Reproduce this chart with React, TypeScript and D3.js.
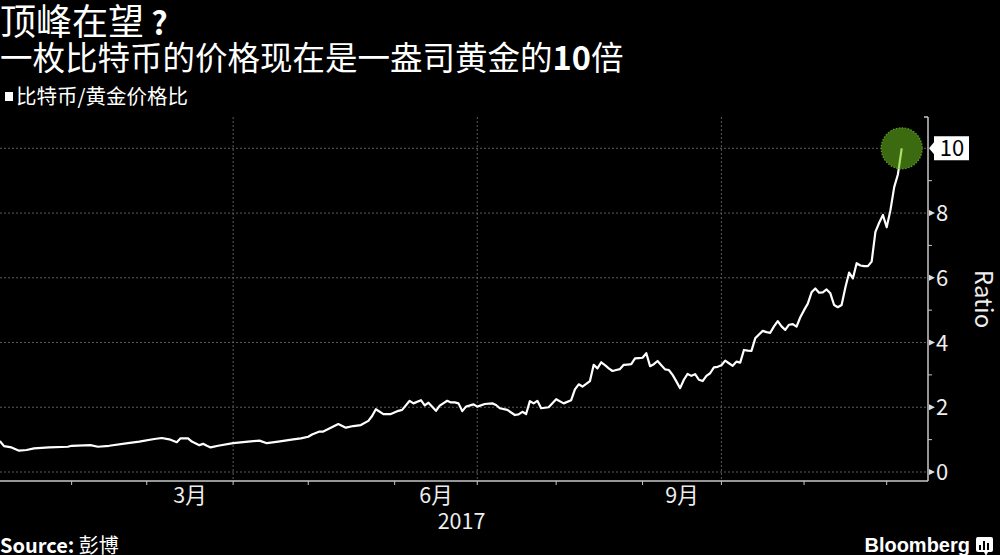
import * as d3 from "d3";

const dates = [
  "2017-01-03", "2017-01-05", "2017-01-06", "2017-01-10", "2017-01-12", "2017-01-16", "2017-01-18", "2017-01-24",
  "2017-01-31", "2017-02-01", "2017-02-08", "2017-02-10", "2017-02-15", "2017-02-22", "2017-02-27", "2017-03-03",
  "2017-03-07", "2017-03-09", "2017-03-13", "2017-03-14", "2017-03-16", "2017-03-17", "2017-03-21", "2017-03-22",
  "2017-03-23", "2017-03-24", "2017-03-28", "2017-04-03", "2017-04-07", "2017-04-12", "2017-04-14", "2017-04-19",
  "2017-04-25", "2017-04-27", "2017-05-01", "2017-05-02", "2017-05-04", "2017-05-05", "2017-05-09", "2017-05-11",
  "2017-05-15", "2017-05-17", "2017-05-19", "2017-05-23", "2017-05-24", "2017-05-25", "2017-05-29", "2017-05-31",
  "2017-06-02", "2017-06-05", "2017-06-07", "2017-06-08", "2017-06-12", "2017-06-13", "2017-06-14", "2017-06-16",
  "2017-06-19", "2017-06-21", "2017-06-22", "2017-06-23", "2017-06-26", "2017-06-27", "2017-06-28", "2017-06-30",
  "2017-07-03", "2017-07-05", "2017-07-07", "2017-07-10", "2017-07-11", "2017-07-13", "2017-07-17", "2017-07-18",
  "2017-07-19", "2017-07-20", "2017-07-21", "2017-07-24", "2017-07-25", "2017-07-26", "2017-07-28", "2017-08-01",
  "2017-08-03", "2017-08-07", "2017-08-08", "2017-08-09", "2017-08-10", "2017-08-11", "2017-08-14", "2017-08-15",
  "2017-08-16", "2017-08-17", "2017-08-18", "2017-08-21", "2017-08-22", "2017-08-23", "2017-08-24", "2017-08-25",
  "2017-08-28", "2017-08-29", "2017-08-30", "2017-08-31", "2017-09-01", "2017-09-04", "2017-09-05", "2017-09-06",
  "2017-09-07", "2017-09-08", "2017-09-11", "2017-09-12", "2017-09-13", "2017-09-14", "2017-09-15", "2017-09-18",
  "2017-09-19", "2017-09-20", "2017-09-21", "2017-09-22", "2017-09-25", "2017-09-26", "2017-09-27", "2017-09-28",
  "2017-09-29", "2017-10-02", "2017-10-03", "2017-10-04", "2017-10-05", "2017-10-06", "2017-10-09", "2017-10-10",
  "2017-10-11", "2017-10-12", "2017-10-13", "2017-10-16", "2017-10-17", "2017-10-18", "2017-10-19", "2017-10-20",
  "2017-10-23", "2017-10-24", "2017-10-25", "2017-10-26", "2017-10-27", "2017-10-30", "2017-10-31", "2017-11-01",
  "2017-11-02", "2017-11-03", "2017-11-06", "2017-11-07", "2017-11-08", "2017-11-09", "2017-11-10", "2017-11-13",
  "2017-11-14", "2017-11-15", "2017-11-16", "2017-11-17", "2017-11-20", "2017-11-21", "2017-11-22", "2017-11-23",
  "2017-11-24", "2017-11-27", "2017-11-28", "2017-11-29", "2017-11-30", "2017-12-01", "2017-12-04", "2017-12-05",
  "2017-12-06", "2017-12-07",
];

// bitcoin price / gold price per ounce
const ratios = [
  0.98, 0.94, 0.8, 0.76, 0.66, 0.68, 0.73, 0.76,
  0.78, 0.81, 0.83, 0.78, 0.81, 0.89, 0.94, 1.02,
  1.05, 1.01, 0.92, 1.04, 1.04, 0.94, 0.83, 0.87,
  0.81, 0.76, 0.81, 0.89, 0.94, 0.97, 0.89, 0.94,
  1.01, 1.04, 1.09, 1.16, 1.25, 1.25, 1.37, 1.48,
  1.37, 1.42, 1.45, 1.58, 1.73, 1.94, 1.79, 1.79,
  1.89, 1.92, 2.2, 2.12, 2.22, 2.06, 2.14, 1.89,
  2.05, 2.2, 2.15, 2.15, 2.12, 1.88, 2.02, 2.09,
  2.02, 2.1, 2.12, 2.07, 1.97, 1.92, 1.76, 1.78,
  1.86, 1.79, 2.19, 2.12, 2.2, 1.97, 2.0, 2.25,
  2.12, 2.22, 2.55, 2.71, 2.64, 2.72, 2.81, 3.31,
  3.2, 3.39, 3.3, 3.2, 3.12, 3.15, 3.18, 3.31,
  3.32, 3.33, 3.51, 3.52, 3.53, 3.67, 3.27, 3.33,
  3.43, 3.3, 3.17, 3.15, 3.0, 2.8, 2.59, 2.85,
  3.03, 2.97, 3.02, 2.85, 2.81, 2.97, 3.05, 3.23,
  3.25, 3.3, 3.44, 3.36, 3.28, 3.41, 3.38, 3.77,
  3.75, 3.74, 4.13, 4.25, 4.36, 4.32, 4.3, 4.5,
  4.66, 4.5, 4.39, 4.55, 4.57, 4.49, 4.78, 5.0,
  5.2, 5.55, 5.67, 5.54, 5.55, 5.64, 5.52, 5.16,
  5.09, 5.16, 5.7, 6.16, 5.98, 6.45, 6.38, 6.36,
  6.36, 6.5, 7.42, 7.7, 7.94, 7.56, 8.09, 8.8,
  9.2, 10.0,
];

const yTicks = [0, 2, 4, 6, 8, 10];
const yMinorTicks = [1, 3, 5, 7, 9];
const monthTicks = [
  "2017-02-01", "2017-03-01", "2017-04-01", "2017-05-01", "2017-06-01", "2017-07-01",
  "2017-08-01", "2017-09-01", "2017-10-01", "2017-11-01", "2017-12-01",
];
const labeledMonths = ["2017-03-01", "2017-06-01", "2017-09-01"];
const monthNames = ["3月", "6月", "9月"];
const quarterLines = ["2017-04-01", "2017-07-01", "2017-10-01"];
const yearLabel = "2017";

const W = 1000;
const H = 555;
const plotTop = 117;
const plotBottom = 481;
const axisX = 928;
const font = "'Noto Sans CJK SC', 'Noto Sans', sans-serif";
const gridColor = "#5a5a5a";
const axisColor = "#c8c8c8";

const parse = d3.timeParse("%Y-%m-%d");
const origin = new Date(2017, 0, 2);
// the time axis counts trading days, weekends take no room
function tradingIndex(d: Date) {
  return d3.timeDay.range(origin, d).filter((x) => x.getDay() % 6 !== 0).length;
}

export default function App() {
  const points = dates.map((d, i) => ({ t: tradingIndex(parse(d)!), v: ratios[i] }));
  const x = d3.scaleLinear().domain([0, 250]).range([-11, axisX]);
  const y = d3.scaleLinear().domain([0, 10]).range([472, 148.3]);
  const line = d3
    .line<{ t: number; v: number }>()
    .x((p) => x(p.t))
    .y((p) => y(p.v));
  const path = line(points) ?? "";
  const last = points[points.length - 1];
  const lx = x(last.t);
  const ly = y(last.v);
  const fmt = d3.format(".0f");

  return (
    <svg
      width={W}
      height={H}
      viewBox={`0 0 ${W} ${H}`}
      style={{ position: "absolute", left: 0, top: 0, background: "#000" }}
      fontFamily={font}
    >
      <defs>
        <clipPath id="plot">
          <rect x={0} y={plotTop - 10} width={axisX} height={plotBottom - plotTop + 10} />
        </clipPath>
        <clipPath id="spot">
          <circle cx={lx} cy={ly} r={20.5} />
        </clipPath>
      </defs>
      <rect x={0} y={0} width={W} height={H} fill="#000" />

      {/* headings */}
      <text x={0} y={35} fill="#fff" fontSize={36}>
        顶峰在望<tspan fontWeight="bold" fontSize={32}> ?</tspan>
      </text>
      <text x={0} y={70} fill="#fff" fontSize={32.5}>
        一枚比特币的价格现在是一盎司黄金的<tspan fontWeight="bold">10</tspan>倍
      </text>
      <rect x={5} y={92} width={8} height={9} fill="#fff" />
      <text x={16} y={104} fill="#fff" fontSize={20.5}>
        比特币/黄金价格比
      </text>

      {/* grid */}
      {yTicks.map((t) => (
        <line key={`g${t}`} x1={0} x2={axisX} y1={y(t)} y2={y(t)} stroke={gridColor} strokeDasharray="2,2" />
      ))}
      {quarterLines.map((d) => {
        const gx = x(tradingIndex(parse(d)!));
        return <line key={d} x1={gx} x2={gx} y1={plotTop} y2={plotBottom} stroke={gridColor} strokeDasharray="2,2" />;
      })}

      {/* series */}
      <g clipPath="url(#plot)">
        <path d={path} fill="none" stroke="#fff" strokeWidth={2.2} strokeLinejoin="round" />
      </g>
      <circle cx={lx} cy={ly} r={20.5} fill="#3b6a10" stroke="#5f9e22" strokeWidth={1.2} strokeDasharray="1.5,1.5" />
      <path d={path} fill="none" stroke="#a9e06a" strokeWidth={2.2} clipPath="url(#spot)" />

      {/* x axis */}
      <line x1={0} x2={axisX} y1={plotBottom} y2={plotBottom} stroke={axisColor} strokeWidth={1.5} />
      {monthTicks.map((d) => {
        const tx = x(tradingIndex(parse(d)!));
        return <line key={d} x1={tx} x2={tx} y1={plotBottom} y2={plotBottom + 4} stroke={axisColor} />;
      })}
      {labeledMonths.map((d, i) => {
        const start = parse(d)!;
        const cx = (x(tradingIndex(start)) + x(tradingIndex(d3.timeMonth.offset(start, 1)))) / 2;
        return (
          <text key={d} x={cx} y={503} fill="#eee" fontSize={21.5} textAnchor="middle">
            {monthNames[i]}
          </text>
        );
      })}
      <text x={(x(0) + axisX) / 2 + 3} y={529} fill="#eee" fontSize={21.5} textAnchor="middle">
        {yearLabel}
      </text>

      {/* y axis */}
      <line x1={axisX} x2={axisX} y1={plotTop} y2={plotBottom} stroke={axisColor} strokeWidth={1.5} />
      <line x1={axisX - 4} x2={axisX} y1={plotTop} y2={plotTop} stroke={axisColor} strokeWidth={1.5} />
      {yMinorTicks.map((t) => (
        <line key={`m${t}`} x1={axisX} x2={axisX + 4} y1={y(t)} y2={y(t)} stroke={axisColor} />
      ))}
      {yTicks.map((t) => (
        <g key={`t${t}`}>
          {t !== last.v && (
            <>
              <path d={`M${axisX + 1},${y(t) - 3}L${axisX + 7},${y(t)}L${axisX + 1},${y(t) + 3}Z`} fill="#ddd" />
              <text x={axisX + 8} y={y(t) + 8} fill="#eee" fontSize={22}>
                {t}
              </text>
            </>
          )}
        </g>
      ))}
      <path
        d={`M${axisX + 1},${ly}L${axisX + 6},${ly - 6}L${axisX + 6},${ly - 12}L${axisX + 41},${ly - 12}L${axisX + 41},${
          ly + 12
        }L${axisX + 6},${ly + 12}L${axisX + 6},${ly + 6}Z`}
        fill="#fff"
      />
      <text x={axisX + 24} y={ly + 8} fill="#000" fontSize={22} textAnchor="middle">
        {fmt(last.v)}
      </text>
      <text
        transform={`translate(975,${(plotTop + plotBottom) / 2}) rotate(90)`}
        fill="#eee"
        fontSize={24}
        textAnchor="middle"
      >
        Ratio
      </text>

      {/* footer */}
      <text x={0} y={553} fill="#fff" fontSize={20}>
        <tspan fontWeight="bold">Source:</tspan> 彭博
      </text>
      <text x={970} y={552} fill="#fff" fontSize={20} fontWeight="bold" textAnchor="end" fontFamily="'Liberation Sans', Arial, sans-serif">
        Bloomberg
      </text>
      <rect x={976} y={537} width={17} height={15} rx={2} fill="#fff" />
      <path d="M984,552L986,556L988,552Z" fill="#fff" />
      <rect x={979} y={545} width={2} height={5} fill="#000" />
      <rect x={983} y={541} width={2} height={9} fill="#000" />
      <rect x={987} y={543} width={2} height={7} fill="#000" />
    </svg>
  );
}
